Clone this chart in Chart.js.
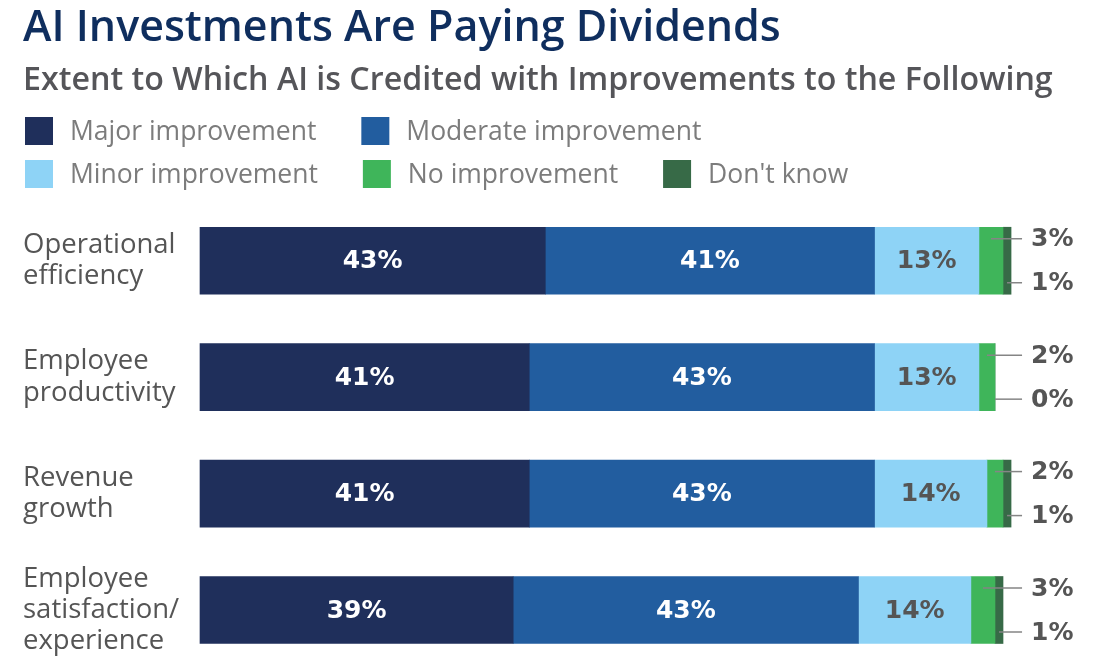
<!DOCTYPE html>
<html>
<head>
<meta charset="utf-8">
<script src="https://cdn.jsdelivr.net/npm/chart.js@4/dist/chart.umd.min.js"></script>
<style>
  html, body { margin: 0; padding: 0; background: #fff; overflow: hidden; }
  #wrap { width: 1105px; height: 662px; position: relative; }
</style>
</head>
<body>
<div id="wrap"><canvas id="myChart"></canvas></div>
<script>
var Categories = [
	['Operational', 'efficiency'],
	['Employee', 'productivity'],
	['Revenue', 'growth'],
	['Employee', 'satisfaction/', 'experience']
]
var SeriesNames = ['Major improvement', 'Moderate improvement', 'Minor improvement', 'No improvement', "Don't know"]
var SeriesColors = ['#1f2f5b', '#225d9f', '#8ed3f6', '#3fb55a', '#376a47']

var Major = [43, 41, 41, 39]
var Moderate = [41, 43, 43, 43]
var Minor = [13, 13, 14, 14]
var NoImprove = [3, 2, 2, 3]
var DontKnow = [1, 0, 1, 1]

var BarMax = 101     // longest stack
var AxisMax = 112.7  // leaves room for the small labels on the right

var allSeries = [Major, Moderate, Minor, NoImprove, DontKnow]

/* legend drawn in the gap under the subtitle */
var legendPlugin = {
	id: 'flowLegend',
	afterDraw(chart) {
		const ctx = chart.ctx
		const rows = [[0, 1], [2, 3, 4]]
		const rowY = [131, 174]
		ctx.save()
		ctx.font = '400 26.5px "Open Sans"'
		ctx.textBaseline = 'middle'
		rows.forEach((row, r) => {
			let x = 25
			row.forEach(i => {
				ctx.fillStyle = SeriesColors[i]
				ctx.fillRect(x, rowY[r] - 14, 28, 28)
				ctx.fillStyle = '#7c7c7c'
				ctx.fillText(SeriesNames[i], x + 45, rowY[r] + 1)
				x += 45 + ctx.measureText(SeriesNames[i]).width + 45
			})
		})
		ctx.restore()
	}
}

/* value labels in bars + leader lines on the right */
var labelPlugin = {
	id: 'valueLabels',
	afterDatasetsDraw(chart) {
		const ctx = chart.ctx
		const right = chart.scales.x.getPixelForValue(BarMax)
		ctx.save()
		ctx.font = 'bold 25px "DejaVu Sans"'
		ctx.textBaseline = 'middle'
		for (let d = 0; d < 3; d++) {
			const meta = chart.getDatasetMeta(d)
			meta.data.forEach((bar, idx) => {
				ctx.fillStyle = d < 2 ? '#ffffff' : '#555555'
				ctx.textAlign = 'center'
				ctx.fillText(allSeries[d][idx] + '%', (bar.x + bar.base) / 2, bar.y + 1)
			})
		}
		for (let d = 3; d < 5; d++) {
			const meta = chart.getDatasetMeta(d)
			meta.data.forEach((bar, idx) => {
				const y = bar.y + (d == 3 ? -22 : 22)
				const x0 = (bar.x + bar.base) / 2
				ctx.strokeStyle = '#858585'
				ctx.lineWidth = 1.5
				ctx.beginPath()
				ctx.moveTo(x0, y)
				ctx.lineTo(right + 11, y)
				ctx.stroke()
				ctx.fillStyle = '#555555'
				ctx.textAlign = 'left'
				ctx.fillText(allSeries[d][idx] + '%', right + 20, y + 1)
			})
		}
		ctx.restore()
	}
}

var ctx = document.getElementById('myChart').getContext('2d')
var chart = new Chart(ctx, {
	type: 'bar',
	data: {
		labels: Categories,
		datasets: allSeries.map((vals, i) => ({
			label: SeriesNames[i],
			data: vals,
			backgroundColor: SeriesColors[i],
			borderWidth: 0,
			barThickness: 67,
			clip: false
		}))
	},
	options: {
		indexAxis: 'y',
		responsive: true,
		maintainAspectRatio: false,
		animation: false,
		layout: {
			padding: { left: 23, right: 0, top: 0, bottom: 52 }
		},
		scales: {
			x: {
				stacked: true,
				min: 0,
				max: AxisMax,
				display: false
			},
			y: {
				stacked: true,
				offset: false,
				grid: { display: false },
				border: { display: false },
				ticks: {
					crossAlign: 'far',
					color: '#555555',
					font: { family: 'Open Sans', size: 27.5, lineHeight: 1.13 },
					padding: 0
				},
				afterFit(scale) { scale.width = 177 }
			}
		},
		plugins: {
			legend: { display: false },
			tooltip: { enabled: false },
			title: {
				display: true,
				text: 'AI Investments Are Paying Dividends',
				align: 'start',
				color: '#0f2e5e',
				font: { family: 'Open Sans', size: 43, weight: '600', lineHeight: 1.2 },
				padding: { top: 3, bottom: 0 }
			},
			subtitle: {
				display: true,
				text: 'Extent to Which AI is Credited with Improvements to the Following',
				align: 'start',
				color: '#555559',
				font: { family: 'Open Sans', size: 32.2, weight: '600', lineHeight: 1.2 },
				padding: { top: 7, bottom: 160.5 }
			}
		}
	},
	plugins: [legendPlugin, labelPlugin]
})
</script>
</body>
</html>
